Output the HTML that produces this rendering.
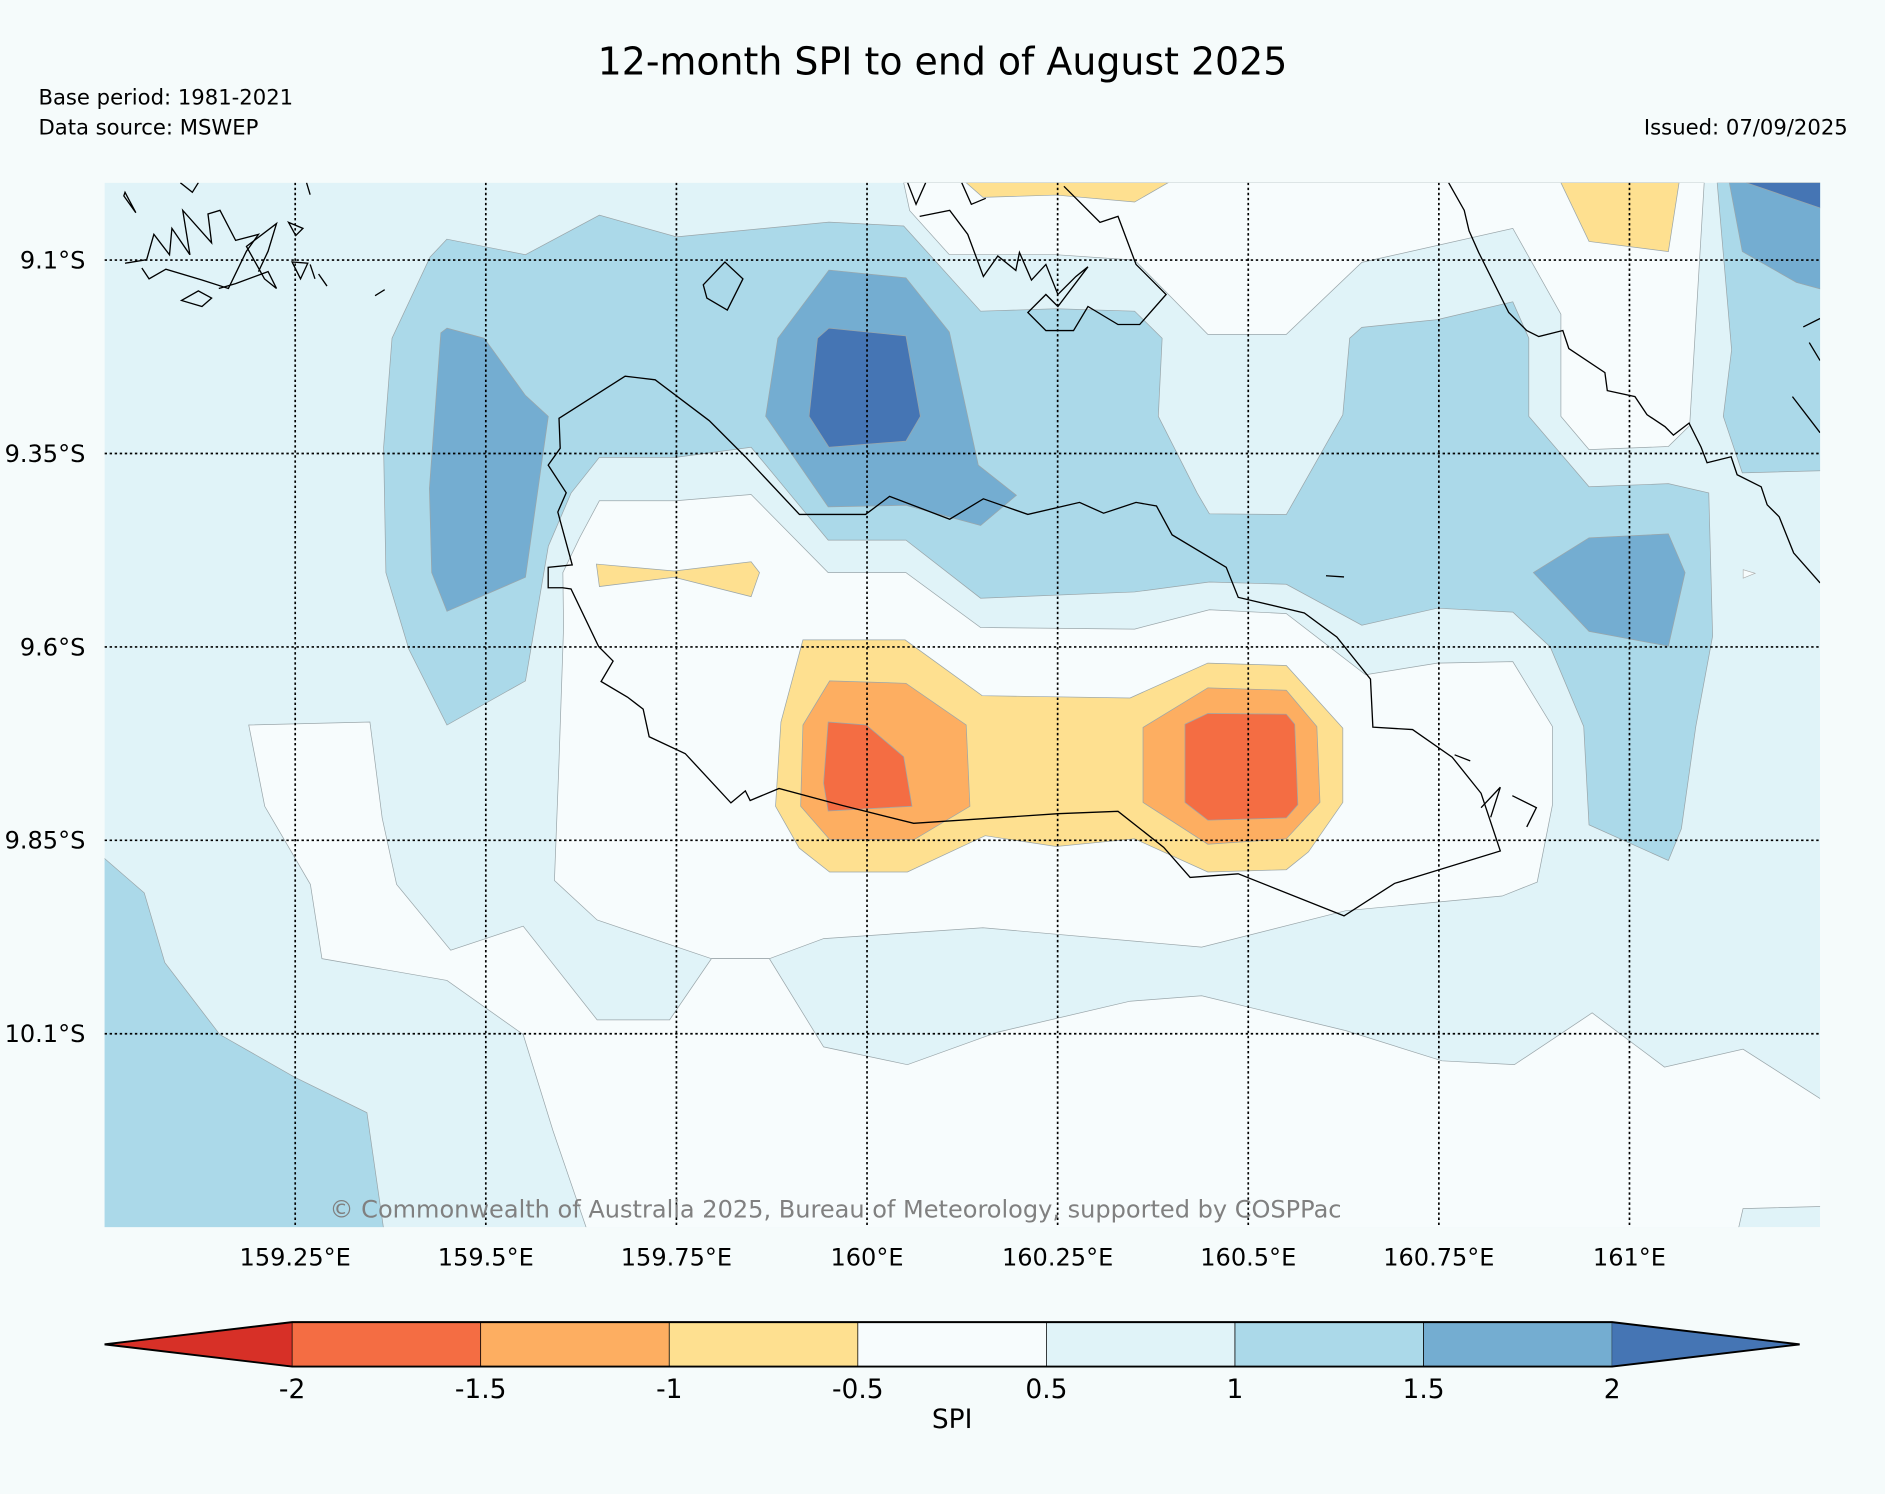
<!DOCTYPE html>
<html><head><meta charset="utf-8"><style>
html,body{margin:0;padding:0;background:#f5fbfb;}
svg{display:block;font-family:"DejaVu Sans","Liberation Sans",sans-serif;}
</style></head><body>
<svg id="fig" width="1885" height="1494" viewBox="0 0 1568 1243" preserveAspectRatio="none" xmlns="http://www.w3.org/2000/svg">
<rect x="0" y="0" width="1568" height="1243" fill="#f5fbfb"/>
<text x="784" y="62" text-anchor="middle" font-size="31.5" fill="#000">12-month SPI to end of August 2025</text>
<text x="32" y="87" font-size="17.6" fill="#000">Base period: 1981-2021</text>
<text x="32" y="112" font-size="17.6" fill="#000">Data source: MSWEP</text>
<text x="1537" y="112" text-anchor="end" font-size="17.6" fill="#000">Issued: 07/09/2025</text>
<defs><clipPath id="mapclip"><rect x="87" y="152" width="1427" height="869"/></clipPath></defs>
<g id="map" clip-path="url(#mapclip)">
<rect x="87" y="152" width="1427" height="869" fill="#e0f3f8"/>
<g id="contours"></g>
<g id="coast" fill="none" stroke="#000" stroke-width="1.1">
<path d="M465,348 L520,313 L545,316 L590,350 L620,380 L665,428 L720,428 L740,413 L790,432 L818,415 L855,428 L898,418 L918,427 L945,418 L962,421 L975,445 L1020,472 L1030,497 L1085,510 L1112,530 L1140,565 L1142,605 L1175,607 L1208,630 L1232,660 L1248,708 L1160,735 L1118,762 L1030,727 L990,730 L968,705 L930,675 L880,677 L760,685 L700,670 L648,656 L624,666 L620,658 L608,668 L570,627 L540,613 L535,590 L522,580 L500,567 L510,550 L498,538 L475,490 L468,489 L456,489 L456,472 L476,470 L464,426 L471,410 L456,387 L466,373 Z"/>
<path d="M104,219 L122,216 L128,195 L141,212 L143,190 L158,212 L152,175 L176,202 L173,178 L183,175 L196,200 L215,195 L205,209 L190,240 L168,233 L138,224 L124,232 L118,223"/>
<path d="M103,163 L113,177 L104,160 Z M150,152 L160,160 L165,152"/>
<path d="M176,248 L165,242 L151,250 L168,255 Z M182,240 L196,236 L223,226 L230,240 L220,232 L205,205 L230,186 L223,209 L215,226"/>
<path d="M243,218 L250,232 L256,219 Z M258,220 L262,232 M265,228 L272,238 M312,246 L320,241 M240,185 L246,196 L252,190 Z M255,152 L258,162"/>
<path d="M585,237 L603,218 L618,232 L605,258 L588,248 Z"/>
<path d="M755,152 L762,170 L770,152 M765,180 L790,175 L805,195 L818,230 L830,213 L845,225 L848,210 L858,233 L870,220 L880,245 L895,230 L905,222 L880,255 L870,245 L855,260 L870,275 L893,275 L905,255 L930,270 L948,270 L970,245 L945,220 L930,180 L915,185 L885,155 M800,152 L808,170 L820,165"/>
<path d="M1205,152 L1218,175 L1222,192 L1230,210 L1255,260 L1270,275 L1280,280 L1300,275 L1305,290 L1335,310 L1337,325 L1360,330 L1370,345 L1385,355 L1392,362 L1405,352 L1415,372 L1420,385 L1440,380 L1445,395 L1465,405 L1470,420 L1480,430 L1492,460 L1514,485"/>
<path d="M1491,330 L1514,360 M1500,272 L1514,265 M1505,285 L1514,300 M1103,479 L1118,480 M1210,628 L1223,633 M1232,672 L1248,655 L1240,680 M1258,662 L1278,672 L1270,688"/>
<path d="M1450,474 L1460,477 L1450,481 Z" fill="#f7fcfd" stroke="#aaa" stroke-width="0.5"/>
</g>
<g id="grid" stroke="#000" stroke-width="1.4" stroke-dasharray="2,2.2"></g>
<text x="695" y="1013" text-anchor="middle" font-size="20" fill="#808080">© Commonwealth of Australia 2025, Bureau of Meteorology, supported by COSPPac</text>
</g>
<g id="ticklabels" font-size="20" fill="#000"></g>
<g id="cbar"></g>
<text x="792" y="1188" text-anchor="middle" font-size="22">SPI</text>
</svg>
<script>
var NS="http://www.w3.org/2000/svg";
// axis domain
var lonMin=159.0, lonMax=161.25, latMinS=9.0, latMaxS=10.35;
var lonTicks=[159.25,159.5,159.75,160,160.25,160.5,160.75,161];
var lonTickLabels=["159.25°E","159.5°E","159.75°E","160°E","160.25°E","160.5°E","160.75°E","161°E"];
var latTicks=[9.1,9.35,9.6,9.85,10.1];
var latTickLabels=["9.1°S","9.35°S","9.6°S","9.85°S","10.1°S"];
var levelBounds=[-2,-1.5,-1,-0.5,0.5,1,1.5,2];
var levelLabels=["-2","-1.5","-1","-0.5","0.5","1","1.5","2"];
var levelColors=["#d73027","#f46d43","#fdae61","#fee090","#f7fcfd","#e0f3f8","#abd9e9","#74add1","#4575b4"];
// contour polygons: [lon, latS]; level index into levelColors
var polyLevels=[4,3,3,6,7,8,6,6,4,4,3,7,7,8,7,3,2,1,2,1];
var polyNames=["white-north","yellow-north","yellow-northeast","blue-east-edge","blue-east-mid","blue-east-dark","blue-main-band","blue-southwest","white-central","white-south","yellow-bowtie","blue-west-core","blue-north-core","blue-dark-core","blue-east-core","yellow-dry-blob","orange-west","red-west","orange-east","red-east"];
var polys=[
[[160.048,9.0],[160.056,9.036],[160.108,9.093],[160.248,9.093],[160.351,9.1],[160.447,9.196],[160.55,9.196],[160.649,9.103],[160.847,9.059],[160.91,9.17],[160.91,9.302],[160.947,9.345],[161.051,9.341],[161.079,9.314],[161.098,9.0]],
[[160.13,9.0],[160.152,9.019],[160.248,9.016],[160.351,9.025],[160.395,9.0]],
[[160.91,9.0],[160.947,9.076],[161.051,9.089],[161.065,9.0]],
[[161.115,9.0],[161.134,9.216],[161.123,9.302],[161.148,9.375],[161.26,9.372],[161.26,9.0]],
[[161.131,9.0],[161.148,9.089],[161.219,9.129],[161.26,9.14],[161.26,9.0]],
[[161.153,9.0],[161.26,9.036],[161.26,9.0]],
[[159.449,9.073],[159.552,9.093],[159.649,9.042],[159.75,9.07],[159.95,9.051],[160.048,9.056],[160.149,9.166],[160.248,9.163],[160.351,9.166],[160.387,9.201],[160.382,9.302],[160.433,9.401],[160.449,9.428],[160.55,9.429],[160.624,9.3],[160.633,9.201],[160.649,9.187],[160.748,9.177],[160.847,9.154],[160.868,9.201],[160.868,9.302],[160.947,9.393],[161.051,9.389],[161.104,9.401],[161.109,9.586],[161.087,9.703],[161.068,9.835],[161.051,9.876],[160.947,9.83],[160.94,9.703],[160.896,9.6],[160.847,9.555],[160.748,9.55],[160.649,9.572],[160.55,9.519],[160.449,9.516],[160.351,9.529],[160.149,9.537],[160.051,9.462],[159.949,9.462],[159.848,9.342],[159.749,9.355],[159.649,9.355],[159.612,9.401],[159.582,9.47],[159.552,9.644],[159.449,9.701],[159.399,9.603],[159.369,9.504],[159.366,9.342],[159.377,9.201],[159.427,9.096]],
[[158.99,9.865],[159.052,9.918],[159.079,10.008],[159.151,10.101],[159.249,10.156],[159.344,10.202],[159.367,10.36],[158.99,10.36]],
[[159.649,9.411],[159.623,9.459],[159.601,9.504],[159.602,9.574],[159.596,9.748],[159.59,9.902],[159.646,9.953],[159.796,10.003],[159.872,10.003],[159.943,9.977],[160.152,9.963],[160.439,9.988],[160.628,9.941],[160.833,9.922],[160.879,9.904],[160.899,9.804],[160.899,9.703],[160.847,9.619],[160.748,9.621],[160.654,9.636],[160.55,9.557],[160.449,9.552],[160.351,9.577],[160.149,9.575],[160.051,9.504],[159.949,9.504],[159.848,9.403],[159.749,9.411]],
[[159.189,9.701],[159.348,9.697],[159.364,9.821],[159.383,9.907],[159.454,9.992],[159.549,9.961],[159.646,10.082],[159.741,10.082],[159.796,10.003],[159.872,10.003],[159.943,10.117],[160.053,10.14],[160.171,10.098],[160.345,10.058],[160.439,10.051],[160.628,10.096],[160.754,10.135],[160.849,10.14],[160.951,10.073],[161.046,10.143],[161.149,10.12],[161.26,10.19],[161.26,10.323],[161.149,10.326],[161.141,10.36],[159.635,10.36],[159.588,10.225],[159.549,10.101],[159.449,10.031],[159.285,10.003],[159.27,9.907],[159.21,9.806]],
[[159.645,9.493],[159.747,9.502],[159.848,9.49],[159.859,9.504],[159.848,9.535],[159.747,9.51],[159.649,9.522]],
[[159.449,9.188],[159.498,9.201],[159.552,9.275],[159.582,9.302],[159.552,9.51],[159.449,9.554],[159.429,9.504],[159.426,9.395],[159.441,9.194]],
[[159.95,9.113],[160.051,9.123],[160.108,9.193],[160.124,9.266],[160.146,9.365],[160.196,9.404],[160.149,9.443],[160.051,9.417],[159.949,9.419],[159.867,9.302],[159.883,9.201]],
[[159.95,9.188],[160.051,9.198],[160.07,9.302],[160.051,9.334],[159.95,9.342],[159.924,9.302],[159.935,9.201]],
[[160.874,9.504],[160.947,9.459],[161.051,9.454],[161.073,9.504],[161.051,9.599],[160.947,9.58]],
[[159.916,9.591],[160.05,9.591],[160.151,9.663],[160.345,9.666],[160.447,9.621],[160.55,9.624],[160.624,9.705],[160.624,9.801],[160.579,9.865],[160.55,9.888],[160.447,9.891],[160.351,9.848],[160.248,9.858],[160.155,9.844],[160.053,9.891],[159.951,9.891],[159.911,9.86],[159.88,9.806],[159.887,9.697]],
[[159.951,9.644],[160.051,9.647],[160.13,9.701],[160.135,9.806],[160.062,9.849],[159.951,9.849],[159.913,9.806],[159.916,9.701]],
[[159.949,9.697],[159.999,9.701],[160.048,9.742],[160.059,9.806],[159.949,9.812],[159.943,9.776]],
[[160.447,9.653],[160.55,9.656],[160.59,9.703],[160.594,9.801],[160.55,9.848],[160.447,9.855],[160.362,9.801],[160.362,9.704]],
[[160.447,9.686],[160.55,9.687],[160.561,9.7],[160.565,9.804],[160.55,9.821],[160.447,9.824],[160.417,9.801],[160.417,9.7]]
];
var MX0=87,MX1=1514,MY0=152,MY1=1021;
function xS(lon){return MX0+(lon-lonMin)/(lonMax-lonMin)*(MX1-MX0);}
function yS(lat){return MY0+(lat-latMinS)/(latMaxS-latMinS)*(MY1-MY0);}
var cg=document.getElementById('contours');
for(var i=0;i<polys.length;i++){
  var p=document.createElementNS(NS,'polygon');
  p.setAttribute('points',polys[i].map(function(q){return xS(q[0]).toFixed(1)+','+yS(q[1]).toFixed(1);}).join(' '));
  p.setAttribute('fill',levelColors[polyLevels[i]]);
  p.setAttribute('stroke','#9aa6aa');
  p.setAttribute('stroke-width','0.6');
  
  
  cg.appendChild(p);
}
var gg=document.getElementById('grid'), tl=document.getElementById('ticklabels');
lonTicks.forEach(function(v,i){
  var l=document.createElementNS(NS,'line');
  l.setAttribute('x1',xS(v));l.setAttribute('x2',xS(v));l.setAttribute('y1',MY0);l.setAttribute('y2',MY1);
  
  
  gg.appendChild(l);
  var t=document.createElementNS(NS,'text');
  t.setAttribute('x',xS(v));t.setAttribute('y',1053);t.setAttribute('text-anchor','middle');
  t.textContent=lonTickLabels[i];
  
  
  tl.appendChild(t);
});
latTicks.forEach(function(v,i){
  var l=document.createElementNS(NS,'line');
  l.setAttribute('x1',MX0);l.setAttribute('x2',MX1);l.setAttribute('y1',yS(v));l.setAttribute('y2',yS(v));
  
  
  gg.appendChild(l);
  var t=document.createElementNS(NS,'text');
  t.setAttribute('x',71);t.setAttribute('y',yS(v)+7);t.setAttribute('text-anchor','end');
  t.textContent=latTickLabels[i];
  
  
  tl.appendChild(t);
});
// colorbar
var cb=document.getElementById('cbar');
var CX0=243,CX1=1341,CY0=1100,CY1=1137,TL=87,TR=1497;
function cx(v){var idx=levelBounds.indexOf(v);return CX0+idx*(CX1-CX0)/(levelBounds.length-1);}
var lt=document.createElementNS(NS,'polygon');
lt.setAttribute('points',TL+','+(CY0+CY1)/2+' '+CX0+','+CY0+' '+CX0+','+CY1);
lt.setAttribute('fill',levelColors[0]);


cb.appendChild(lt);
for(var k=0;k<levelBounds.length-1;k++){
  var r=document.createElementNS(NS,'rect');
  r.setAttribute('x',cx(levelBounds[k]));r.setAttribute('y',CY0);
  r.setAttribute('width',cx(levelBounds[k+1])-cx(levelBounds[k]));r.setAttribute('height',CY1-CY0);
  r.setAttribute('fill',levelColors[k+1]);r.setAttribute('stroke','#000');r.setAttribute('stroke-width','0.6');
  
  
  cb.appendChild(r);
}
var rt=document.createElementNS(NS,'polygon');
rt.setAttribute('points',TR+','+(CY0+CY1)/2+' '+CX1+','+CY0+' '+CX1+','+CY1);
rt.setAttribute('fill',levelColors[8]);


cb.appendChild(rt);
var ol=document.createElementNS(NS,'polygon');
ol.setAttribute('points',TL+','+(CY0+CY1)/2+' '+CX0+','+CY0+' '+CX1+','+CY0+' '+TR+','+(CY0+CY1)/2+' '+CX1+','+CY1+' '+CX0+','+CY1);
ol.setAttribute('fill','none');ol.setAttribute('stroke','#000');ol.setAttribute('stroke-width','1.6');


cb.appendChild(ol);
levelBounds.forEach(function(v,i){
  var t=document.createElementNS(NS,'text');
  t.setAttribute('x',cx(v));t.setAttribute('y',1163);t.setAttribute('text-anchor','middle');t.setAttribute('font-size','22');
  t.textContent=levelLabels[i];
  
  
  cb.appendChild(t);
});
</script>
</body></html>
